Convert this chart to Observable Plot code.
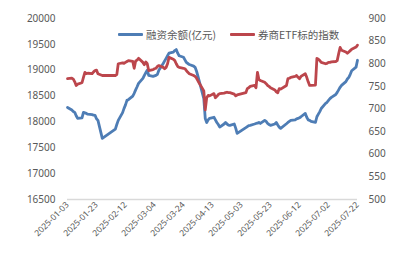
<!DOCTYPE html>
<html>
<head>
<meta charset="utf-8">
<script src="https://cdn.jsdelivr.net/npm/d3@7"></script>
<script src="https://cdn.jsdelivr.net/npm/@observablehq/plot@0.6"></script>
<style>
  html, body { margin: 0; padding: 0; background: #ffffff; }
  #wrap { position: relative; width: 419px; height: 256px; overflow: hidden; }
  .leg { position: absolute; top: 26px; height: 16px; display: flex; align-items: center;
         font-family: "Noto Sans CJK SC", "Noto Sans", sans-serif; font-size: 10.5px; color: #595959; white-space: nowrap; }
  .sw { display: inline-block; width: 25px; height: 3px; margin-right: 3px; border-radius: 1px; }
</style>
</head>
<body>
<div id="wrap"></div>
<script>
// ---- data ----
const dates = [
  "2025-01-03","2025-01-06","2025-01-07","2025-01-08","2025-01-09","2025-01-10","2025-01-13","2025-01-14","2025-01-15","2025-01-16","2025-01-17","2025-01-20","2025-01-21","2025-01-22","2025-01-23","2025-01-24","2025-01-27",
  "2025-02-05","2025-02-06","2025-02-07","2025-02-10","2025-02-11","2025-02-12","2025-02-13","2025-02-14","2025-02-17","2025-02-18","2025-02-19","2025-02-20","2025-02-21","2025-02-24","2025-02-25","2025-02-26","2025-02-27","2025-02-28",
  "2025-03-03","2025-03-04","2025-03-05","2025-03-06","2025-03-07","2025-03-10","2025-03-11","2025-03-12","2025-03-13","2025-03-14","2025-03-17","2025-03-18","2025-03-19","2025-03-20","2025-03-21","2025-03-24","2025-03-25","2025-03-26","2025-03-27","2025-03-28","2025-03-31",
  "2025-04-01","2025-04-02","2025-04-03","2025-04-07","2025-04-08","2025-04-09","2025-04-10","2025-04-11","2025-04-14","2025-04-15","2025-04-16","2025-04-17","2025-04-18","2025-04-21","2025-04-22","2025-04-23","2025-04-24","2025-04-25","2025-04-28","2025-04-29","2025-04-30",
  "2025-05-06","2025-05-07","2025-05-08","2025-05-09","2025-05-12","2025-05-13","2025-05-14","2025-05-15","2025-05-16","2025-05-19","2025-05-20","2025-05-21","2025-05-22","2025-05-23","2025-05-26","2025-05-27","2025-05-28","2025-05-29","2025-05-30",
  "2025-06-03","2025-06-04","2025-06-05","2025-06-06","2025-06-09","2025-06-10","2025-06-11","2025-06-12","2025-06-13","2025-06-16","2025-06-17","2025-06-18","2025-06-19","2025-06-20","2025-06-23","2025-06-24","2025-06-25","2025-06-26","2025-06-27","2025-06-30",
  "2025-07-01","2025-07-02","2025-07-03","2025-07-04","2025-07-07","2025-07-08","2025-07-09","2025-07-10","2025-07-11","2025-07-14","2025-07-15","2025-07-16","2025-07-17","2025-07-18","2025-07-21","2025-07-22"
];

// 融资余额(亿元) — left axis
const financing = [
  18280,18230,18200,18185,18120,18068,18080,18185,18175,18165,18150,18140,18130,18127,18060,18030,17681,
  17860,17950,18030,18180,18262,18330,18417,18430,18500,18553,18620,18680,18746,18843,18900,18950,19000,18900,
  18880,18890,18900,18920,19000,19130,19180,19230,19280,19330,19350,19380,19400,19330,19280,19250,19200,19150,19130,19110,19080,
  19056,18980,18880,18450,18068,17990,18040,18070,18090,18040,17990,17950,17900,17960,17990,17960,17940,17932,17960,17880,17778,
  17890,17910,17930,17935,17960,17970,17975,17990,17970,18030,18010,17970,17950,17932,17960,17990,17940,17900,17875,
  17965,17990,18010,18030,18040,18060,18068,18080,18100,18165,18090,18040,18030,18010,17990,18100,18150,18200,18260,18359,
  18380,18417,18450,18475,18530,18572,18620,18670,18707,18780,18830,18862,18920,18990,19060,19192
];

// 券商ETF标的指数 — right axis
const etfIndex = [
  767,768,766,760,752,755,758,770,781,778,779,778,782,785,786,778,774,
  774,776,800,802,801,803,805,807,805,790,806,808,812,803,798,804,800,785,
  787,789,790,794,796,792,789,792,800,814,810,807,800,794,792,790,789,785,781,778,774,
  772,768,762,740,698,725,730,729,734,725,728,732,734,735,736,737,736,736,733,729,731,
  736,745,747,750,752,747,781,765,763,759,756,752,750,747,742,738,736,745,744,
  752,767,768,770,772,774,770,767,772,778,770,760,752,752,753,812,810,807,803,800,
  801,803,803,804,805,807,822,836,830,826,823,826,829,832,837,841
];

const leftTicks = [16500,17000,17500,18000,18500,19000,19500,20000];
const rightTicks = [500,550,600,650,700,750,800,850,900];
const xTickLabels = ["2025-01-03","2025-01-23","2025-02-12","2025-03-04","2025-03-24","2025-04-13","2025-05-03","2025-05-23","2025-06-12","2025-07-02","2025-07-22"];
const seriesNames = ["融资余额(亿元)", "券商ETF标的指数"];
const seriesColors = ["#4e7db5", "#bc464c"];

// ---- chart ----
const parse = d3.utcParse("%Y-%m-%d");
const fmt = d3.utcFormat("%Y-%m-%d");
const L0 = leftTicks[0], L1 = leftTicks[leftTicks.length - 1];
const R0 = rightTicks[0], R1 = rightTicks[rightTicks.length - 1];
const toLeft = v => L0 + (v - R0) * (L1 - L0) / (R1 - R0);
const toRight = v => Math.round(R0 + (v - L0) * (R1 - R0) / (L1 - L0));

const rows = dates.map((d, i) => ({date: parse(d), fin: financing[i], etf: toLeft(etfIndex[i])}));
const xTicks = xTickLabels.map(parse);

const chart = Plot.plot({
  width: 419,
  height: 256,
  marginLeft: 67,
  marginRight: 62,
  marginTop: 18,
  marginBottom: 57,
  style: {fontFamily: "'Noto Sans', sans-serif", fontSize: "10px", color: "#595959", background: "#ffffff"},
  x: {type: "utc", domain: [xTicks[0], xTicks[xTicks.length - 1]]},
  y: {domain: [L0, L1]},
  marks: [
    Plot.axisY({ticks: leftTicks, anchor: "left", tickSize: 0, tickPadding: 12, label: null, tickFormat: d => String(d)}),
    Plot.axisY({ticks: rightTicks.map(toLeft), anchor: "right", tickSize: 0, tickPadding: 11, label: null, tickFormat: toRight}),
    Plot.axisX({ticks: xTicks, tickRotate: -45, tickSize: 0, tickPadding: 4, label: null, tickFormat: fmt, fontSize: 8.5}),
    Plot.ruleY([L0], {stroke: "#d9d9d9", strokeWidth: 1.5}),
    Plot.lineY(rows, {x: "date", y: "fin", stroke: seriesColors[0], strokeWidth: 2.8}),
    Plot.lineY(rows, {x: "date", y: "etf", stroke: seriesColors[1], strokeWidth: 2.8})
  ]
});

const wrap = document.getElementById("wrap");
wrap.appendChild(chart);

const legPos = [118, 230];
seriesNames.forEach((name, i) => {
  const item = document.createElement("div");
  item.className = "leg";
  item.style.left = legPos[i] + "px";
  const sw = document.createElement("span");
  sw.className = "sw";
  sw.style.background = seriesColors[i];
  const tx = document.createElement("span");
  tx.textContent = name;
  item.appendChild(sw);
  item.appendChild(tx);
  wrap.appendChild(item);
});
</script>
</body>
</html>
